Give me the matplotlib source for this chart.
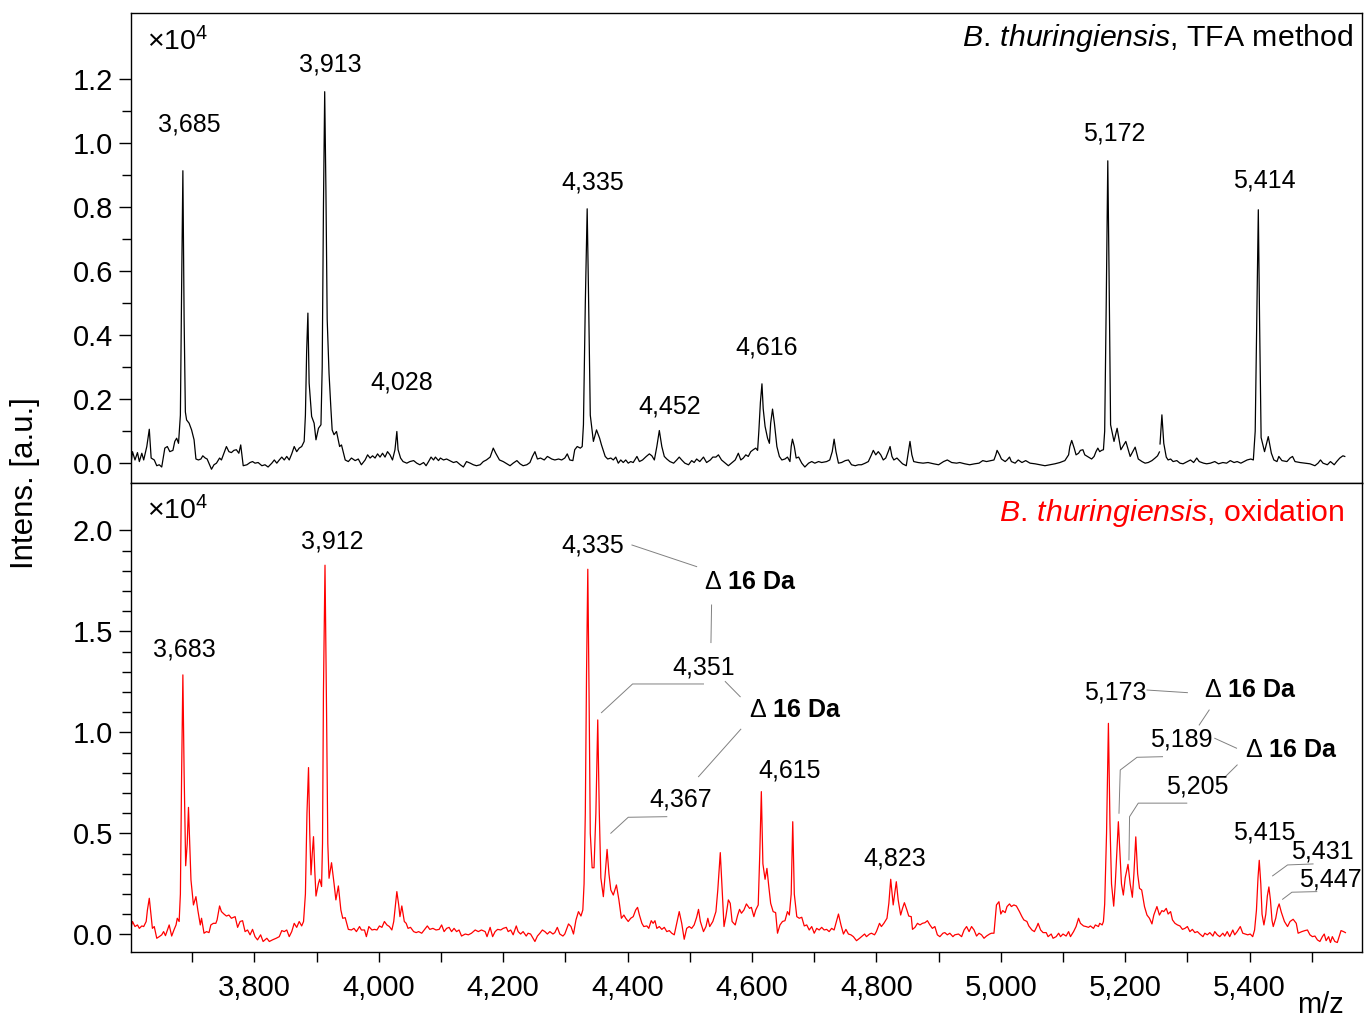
import numpy as np
import matplotlib
matplotlib.use("Agg")
import matplotlib.pyplot as plt
from matplotlib.ticker import FixedLocator, FuncFormatter

plt.rcParams['font.family'] = ['Liberation Sans', 'DejaVu Sans']
plt.rcParams['mathtext.fontset'] = 'custom'
plt.rcParams['mathtext.rm'] = 'Liberation Sans'
plt.rcParams['mathtext.it'] = 'Liberation Sans:italic'
plt.rcParams['mathtext.bf'] = 'Liberation Sans:bold'

# ---------------- data (m/z, intensity x10^4) ----------------
top_trace = [
    (3602, 0.005), (3604, 0.036), (3608, 0.010), (3612, 0.033), (3615, 0.005), (3619, 0.031),
    (3622, 0.010), (3627, 0.052), (3631, 0.106), (3634, 0.016), (3639, 0.010), (3643, -0.008),
    (3647, -0.005), (3651, -0.012), (3656, 0.047), (3660, 0.052), (3664, 0.036), (3669, 0.040),
    (3672, 0.068), (3675, 0.078), (3678, 0.062), (3681, 0.15), (3683, 0.55), (3685, 0.914),
    (3687, 0.45), (3689, 0.16), (3691, 0.135), (3695, 0.125), (3699, 0.104), (3703, 0.073),
    (3706, 0.013), (3710, 0.010), (3714, 0.013), (3717, 0.023), (3721, 0.016), (3724, 0.013),
    (3728, -0.005), (3731, -0.019), (3735, -0.005), (3739, 0.000), (3744, 0.016), (3747, 0.010),
    (3752, 0.036), (3755, 0.052), (3759, 0.036), (3763, 0.033), (3767, 0.040), (3771, 0.042),
    (3775, 0.031), (3778, 0.057), (3782, -0.008), (3788, -0.005), (3793, 0.002), (3797, 0.005),
    (3801, 0.000), (3806, 0.002), (3812, -0.008), (3817, -0.005), (3822, -0.012), (3828, 0.000),
    (3832, 0.010), (3836, 0.000), (3840, 0.010), (3844, 0.019), (3848, 0.010), (3852, 0.021),
    (3856, 0.010), (3860, 0.029), (3864, 0.052), (3868, 0.036), (3872, 0.047), (3876, 0.052),
    (3880, 0.068), (3882, 0.15), (3884, 0.35), (3886, 0.469), (3888, 0.25), (3892, 0.146),
    (3896, 0.125), (3899, 0.073), (3903, 0.109), (3907, 0.120), (3909, 0.30), (3911, 0.80),
    (3913, 1.161), (3915, 0.85), (3917, 0.45), (3920, 0.28), (3923, 0.17), (3925, 0.104),
    (3928, 0.089), (3932, 0.099), (3937, 0.052), (3940, 0.057), (3946, 0.010), (3951, 0.005),
    (3956, 0.016), (3962, 0.008), (3967, 0.013), (3972, -0.005), (3978, 0.010), (3982, 0.026),
    (3986, 0.016), (3990, 0.023), (3994, 0.016), (3998, 0.029), (4002, 0.019), (4006, 0.031),
    (4010, 0.019), (4014, 0.036), (4018, 0.026), (4022, 0.010), (4026, 0.042), (4029, 0.099),
    (4031, 0.042), (4035, 0.016), (4039, 0.005), (4045, 0.000), (4050, 0.005), (4056, 0.008),
    (4061, 0.000), (4066, -0.005), (4072, 0.002), (4076, -0.008), (4080, 0.005), (4084, 0.019),
    (4088, 0.010), (4091, 0.019), (4096, 0.008), (4099, 0.016), (4104, 0.010), (4109, 0.013),
    (4114, 0.008), (4120, 0.002), (4125, 0.005), (4131, -0.005), (4136, -0.012), (4141, 0.005),
    (4147, 0.000), (4152, -0.005), (4157, -0.008), (4163, -0.005), (4168, 0.005), (4173, 0.010),
    (4179, 0.019), (4184, 0.047), (4188, 0.031), (4194, 0.010), (4200, 0.005), (4206, -0.002),
    (4211, -0.008), (4216, 0.000), (4222, 0.008), (4227, -0.002), (4232, -0.008), (4238, -0.005),
    (4243, 0.002), (4247, 0.021), (4251, 0.036), (4255, 0.013), (4260, 0.016), (4266, 0.010),
    (4271, 0.021), (4273, 0.019), (4278, 0.013), (4283, 0.010), (4289, 0.013), (4294, 0.010),
    (4299, 0.016), (4303, 0.029), (4307, 0.010), (4312, 0.008), (4315, 0.042), (4319, 0.052),
    (4324, 0.047), (4327, 0.052), (4329, 0.12), (4332, 0.50), (4335, 0.795), (4337, 0.55),
    (4340, 0.15), (4345, 0.068), (4350, 0.104), (4355, 0.078), (4358, 0.057), (4364, 0.021),
    (4368, 0.013), (4373, 0.016), (4377, 0.010), (4381, 0.019), (4385, 0.000), (4389, 0.010),
    (4393, 0.002), (4397, 0.010), (4401, 0.000), (4405, 0.005), (4409, 0.002), (4415, 0.021),
    (4419, 0.005), (4424, 0.010), (4430, 0.021), (4435, 0.029), (4439, 0.023), (4443, 0.010),
    (4447, 0.052), (4451, 0.102), (4455, 0.052), (4459, 0.021), (4463, 0.013), (4468, 0.005),
    (4474, 0.000), (4479, 0.010), (4483, 0.019), (4487, 0.010), (4492, 0.000), (4498, -0.005),
    (4503, 0.008), (4507, 0.002), (4511, 0.013), (4516, 0.005), (4522, 0.019), (4527, 0.002),
    (4533, 0.010), (4537, 0.019), (4542, 0.019), (4546, 0.026), (4551, 0.010), (4557, 0.000),
    (4562, -0.008), (4567, 0.000), (4573, 0.010), (4578, 0.031), (4582, 0.010), (4586, 0.016),
    (4590, 0.026), (4594, 0.021), (4598, 0.036), (4602, 0.042), (4606, 0.047), (4609, 0.040),
    (4611, 0.10), (4613.5, 0.19), (4616, 0.248), (4618, 0.17), (4621, 0.115), (4625, 0.078),
    (4628, 0.062), (4630, 0.125), (4633, 0.169), (4636, 0.125), (4640, 0.052), (4644, 0.021),
    (4648, 0.010), (4653, 0.013), (4657, 0.019), (4661, 0.005), (4663, 0.052), (4665, 0.075),
    (4668, 0.052), (4671, 0.016), (4675, 0.019), (4680, 0.000), (4685, -0.012), (4691, 0.000),
    (4696, 0.005), (4701, 0.000), (4707, 0.005), (4712, 0.002), (4720, 0.005), (4725, 0.010),
    (4729, 0.036), (4732, 0.075), (4735, 0.036), (4739, 0.000), (4744, 0.002), (4750, 0.008),
    (4755, 0.010), (4760, -0.005), (4766, -0.008), (4771, -0.005), (4776, -0.005), (4782, 0.000),
    (4787, 0.005), (4792, 0.026), (4795, 0.040), (4799, 0.026), (4803, 0.036), (4807, 0.026),
    (4811, 0.010), (4815, 0.016), (4819, 0.036), (4822, 0.052), (4825, 0.021), (4828, 0.010),
    (4833, 0.016), (4837, 0.008), (4842, -0.002), (4848, -0.008), (4851, 0.031), (4854, 0.068),
    (4857, 0.026), (4860, 0.005), (4867, 0.002), (4875, 0.000), (4883, 0.002), (4892, -0.002),
    (4900, -0.005), (4908, 0.005), (4914, 0.010), (4921, 0.002), (4929, 0.000), (4934, 0.002),
    (4942, -0.002), (4950, -0.005), (4958, -0.002), (4965, 0.000), (4971, 0.008), (4977, 0.005),
    (4984, 0.008), (4989, 0.010), (4992, 0.026), (4994, 0.040), (4998, 0.026), (5001, 0.013),
    (5007, 0.005), (5010, 0.010), (5014, 0.019), (5017, 0.005), (5023, 0.000), (5028, 0.010),
    (5034, 0.002), (5040, 0.008), (5047, 0.000), (5055, -0.002), (5063, -0.005), (5071, -0.008),
    (5079, -0.005), (5087, -0.002), (5095, 0.002), (5103, 0.008), (5109, 0.026), (5111, 0.052),
    (5114, 0.071), (5118, 0.047), (5121, 0.026), (5125, 0.031), (5128, 0.040), (5132, 0.042),
    (5135, 0.026), (5141, 0.019), (5146, 0.013), (5150, 0.021), (5153, 0.036), (5156, 0.047),
    (5159, 0.036), (5162, 0.040), (5165, 0.042), (5167, 0.10), (5169.5, 0.50), (5172, 0.945),
    (5174, 0.60), (5176.5, 0.12), (5182, 0.068), (5187, 0.109), (5193, 0.042), (5201, 0.068),
    (5208, 0.021), (5216, 0.050), (5221, 0.013), (5227, 0.005), (5232, 0.000), (5237, 0.002),
    (5243, 0.008), (5248, 0.016), (5252, 0.023), (5255, 0.035), (np.nan, np.nan), (5256, 0.060),
    (5259, 0.151), (5262, 0.062), (5266, 0.019), (5269, 0.010), (5273, 0.013), (5277, 0.005),
    (5283, 0.008), (5288, 0.000), (5293, -0.002), (5300, 0.005), (5305, 0.010), (5310, 0.002),
    (5315, 0.016), (5319, 0.005), (5326, 0.000), (5331, -0.002), (5337, 0.000), (5344, 0.005),
    (5350, -0.002), (5357, 0.002), (5363, 0.000), (5369, 0.008), (5375, 0.002), (5380, 0.005),
    (5386, 0.000), (5391, 0.005), (5396, 0.010), (5402, 0.013), (5406, 0.010), (5409, 0.10),
    (5411.5, 0.45), (5414, 0.792), (5416, 0.45), (5418.5, 0.08), (5424, 0.036), (5430, 0.083),
    (5435, 0.031), (5439, 0.010), (5444, 0.005), (5447, 0.021), (5452, 0.008), (5460, 0.005),
    (5465, 0.016), (5469, 0.021), (5473, 0.005), (5481, 0.002), (5489, 0.000), (5497, -0.002),
    (5505, -0.008), (5510, 0.000), (5514, 0.010), (5518, 0.000), (5525, -0.005), (5530, 0.005),
    (5536, -0.005), (5540, 0.005), (5545, 0.016), (5550, 0.023), (5553, 0.021),
]

bottom_trace = [
    (3602, 0.039), (3604, 0.064), (3608, 0.039), (3612, 0.047), (3615, 0.030), (3619, 0.042),
    (3622, 0.039), (3626, 0.064), (3628, 0.121), (3631, 0.179), (3633, 0.121), (3636, 0.030),
    (3639, 0.039), (3643, -0.019), (3647, -0.011), (3651, -0.002), (3654, 0.014), (3657, -0.006),
    (3661, 0.030), (3663, 0.047), (3667, -0.008), (3671, 0.025), (3674, 0.047), (3676, 0.080),
    (3679, 0.064), (3681, 0.20), (3683, 0.80), (3685, 1.285), (3687, 0.80), (3689.5, 0.34),
    (3692, 0.45), (3694, 0.629), (3696, 0.45), (3698, 0.270), (3702, 0.146), (3706, 0.187),
    (3709, 0.121), (3713, 0.047), (3715, 0.080), (3719, 0.006), (3723, 0.014), (3727, 0.009),
    (3730, 0.047), (3734, 0.055), (3738, 0.055), (3740, 0.072), (3744, 0.141), (3747, 0.113),
    (3751, 0.101), (3755, 0.091), (3759, 0.096), (3763, 0.080), (3769, 0.088), (3773, 0.035),
    (3777, 0.064), (3781, 0.068), (3785, 0.014), (3789, 0.022), (3793, -0.002), (3797, 0.025),
    (3801, -0.011), (3805, -0.027), (3810, -0.002), (3814, -0.035), (3820, -0.019), (3824, -0.035),
    (3829, -0.027), (3835, -0.019), (3840, -0.011), (3844, 0.019), (3848, 0.014), (3852, 0.022),
    (3856, -0.011), (3860, 0.014), (3864, 0.055), (3868, 0.035), (3872, 0.064), (3876, 0.042),
    (3879, 0.064), (3882, 0.20), (3884.5, 0.60), (3887, 0.826), (3889, 0.50), (3891, 0.295),
    (3893, 0.40), (3895, 0.484), (3897, 0.32), (3899, 0.190), (3903, 0.253), (3905, 0.273),
    (3908, 0.237), (3909.5, 0.45), (3911, 1.20), (3913.5, 1.828), (3916, 1.10), (3918, 0.45),
    (3920, 0.278), (3924, 0.355), (3928, 0.253), (3931, 0.171), (3935, 0.240), (3939, 0.121),
    (3942, 0.080), (3946, 0.083), (3951, 0.025), (3956, 0.022), (3960, 0.030), (3964, 0.014),
    (3969, 0.039), (3972, 0.022), (3977, 0.022), (3980, -0.011), (3984, 0.039), (3989, 0.022),
    (3993, 0.025), (3997, 0.022), (4001, 0.042), (4005, 0.035), (4009, 0.064), (4013, 0.047),
    (4017, 0.039), (4021, 0.022), (4024, 0.064), (4027, 0.154), (4029, 0.212), (4032, 0.146),
    (4034, 0.088), (4037, 0.141), (4041, 0.064), (4044, 0.055), (4047, 0.030), (4051, 0.035),
    (4056, 0.014), (4060, 0.009), (4064, 0.014), (4069, 0.006), (4073, 0.022), (4078, 0.042),
    (4082, 0.025), (4087, 0.030), (4092, 0.022), (4097, 0.025), (4101, 0.047), (4105, 0.014),
    (4109, 0.030), (4113, 0.035), (4117, 0.014), (4121, 0.030), (4125, 0.014), (4129, 0.022),
    (4133, -0.008), (4139, 0.002), (4144, -0.002), (4149, 0.006), (4155, 0.022), (4160, 0.014),
    (4165, 0.022), (4171, 0.014), (4174, -0.011), (4179, 0.035), (4183, -0.011), (4187, 0.014),
    (4191, 0.025), (4196, 0.022), (4200, 0.030), (4205, 0.035), (4208, 0.014), (4212, 0.022),
    (4216, -0.002), (4221, 0.042), (4224, 0.014), (4228, 0.002), (4232, 0.014), (4237, -0.008),
    (4240, 0.006), (4244, 0.002), (4248, -0.019), (4251, -0.035), (4255, -0.008), (4259, 0.006),
    (4263, 0.022), (4267, 0.014), (4271, 0.002), (4275, 0.014), (4280, 0.002), (4283, 0.009),
    (4287, 0.035), (4291, 0.002), (4296, -0.008), (4299, 0.002), (4305, 0.052), (4309, 0.039),
    (4313, 0.002), (4317, 0.072), (4321, 0.113), (4325, 0.091), (4328, 0.121), (4330, 0.25),
    (4332, 0.60), (4334, 1.30), (4336, 1.808), (4338, 1.20), (4340, 0.50), (4343, 0.33),
    (4346, 0.33), (4349, 0.60), (4352, 1.062), (4354.5, 0.60), (4357, 0.28), (4361, 0.187),
    (4364, 0.30), (4367, 0.421), (4370, 0.30), (4373, 0.220), (4377, 0.195), (4382, 0.245),
    (4386, 0.171), (4390, 0.080), (4394, 0.096), (4397, 0.080), (4401, 0.064), (4405, 0.080),
    (4409, 0.088), (4413, 0.121), (4416, 0.134), (4419, 0.096), (4423, 0.055), (4426, 0.039),
    (4431, 0.042), (4434, 0.030), (4438, 0.068), (4441, 0.055), (4444, 0.068), (4447, 0.030),
    (4451, 0.039), (4455, 0.025), (4459, 0.035), (4463, 0.014), (4467, 0.019), (4471, 0.006),
    (4475, -0.002), (4479, 0.055), (4483, 0.113), (4487, 0.055), (4491, -0.024), (4495, 0.030),
    (4499, 0.039), (4503, 0.030), (4507, 0.047), (4511, 0.085), (4514, 0.124), (4517, 0.064),
    (4522, 0.014), (4526, 0.039), (4529, 0.080), (4532, 0.039), (4537, 0.064), (4542, 0.113),
    (4545, 0.220), (4549, 0.405), (4552, 0.220), (4555, 0.039), (4558, 0.088), (4562, 0.171),
    (4565, 0.154), (4568, 0.064), (4573, 0.047), (4577, 0.096), (4580, 0.124), (4583, 0.105),
    (4587, 0.121), (4591, 0.151), (4596, 0.129), (4599, 0.134), (4603, 0.088), (4606, 0.121),
    (4610, 0.146), (4612.5, 0.40), (4615, 0.707), (4617.5, 0.35), (4621, 0.273), (4624, 0.327),
    (4627, 0.237), (4630, 0.154), (4634, 0.113), (4638, 0.108), (4641, 0.006), (4645, 0.047),
    (4649, 0.064), (4653, 0.068), (4657, 0.113), (4660, 0.096), (4663, 0.20), (4665.5, 0.558),
    (4668, 0.20), (4672, 0.088), (4676, 0.080), (4680, 0.085), (4684, 0.042), (4688, 0.047),
    (4692, 0.022), (4696, 0.039), (4700, 0.006), (4704, 0.030), (4708, 0.022), (4712, 0.035),
    (4716, 0.022), (4720, 0.025), (4724, 0.014), (4728, 0.030), (4732, 0.022), (4736, 0.068),
    (4739, 0.101), (4743, 0.047), (4747, 0.002), (4751, 0.025), (4755, 0.002), (4759, -0.002),
    (4763, -0.011), (4768, -0.031), (4773, -0.019), (4776, -0.011), (4781, 0.002), (4784, -0.011),
    (4789, 0.002), (4792, 0.006), (4797, -0.002), (4800, 0.014), (4805, 0.055), (4808, 0.039),
    (4812, 0.055), (4817, 0.080), (4820, 0.154), (4823, 0.273), (4827, 0.146), (4832, 0.261),
    (4835, 0.171), (4839, 0.096), (4842, 0.129), (4845, 0.157), (4849, 0.121), (4852, 0.091),
    (4856, 0.088), (4858, 0.025), (4862, 0.035), (4866, 0.055), (4870, 0.047), (4874, 0.055),
    (4878, 0.058), (4882, 0.068), (4886, 0.047), (4890, 0.030), (4894, 0.039), (4898, -0.002),
    (4902, -0.011), (4907, 0.006), (4910, 0.009), (4914, -0.002), (4918, 0.006), (4923, -0.011),
    (4926, -0.002), (4932, 0.002), (4937, -0.011), (4941, 0.022), (4945, 0.039), (4949, 0.014),
    (4953, 0.039), (4957, 0.022), (4961, -0.008), (4965, 0.006), (4969, -0.002), (4973, -0.019),
    (4977, -0.008), (4982, 0.002), (4985, 0.006), (4989, 0.006), (4993, 0.146), (4997, 0.162),
    (5000, 0.101), (5003, 0.118), (5007, 0.108), (5010, 0.138), (5014, 0.151), (5017, 0.138),
    (5021, 0.146), (5025, 0.141), (5030, 0.113), (5034, 0.088), (5037, 0.072), (5042, 0.064),
    (5045, 0.042), (5050, 0.022), (5054, 0.014), (5058, 0.039), (5060, 0.055), (5064, 0.022),
    (5068, 0.009), (5073, 0.009), (5076, -0.011), (5081, 0.002), (5084, -0.019), (5089, -0.011),
    (5093, 0.006), (5096, -0.011), (5100, 0.002), (5105, -0.008), (5109, 0.014), (5112, -0.011),
    (5117, 0.014), (5121, 0.039), (5125, 0.080), (5128, 0.055), (5133, 0.042), (5137, 0.039),
    (5141, 0.035), (5144, 0.042), (5149, 0.030), (5152, 0.047), (5157, 0.039), (5159, 0.055),
    (5163, 0.047), (5165, 0.064), (5167, 0.15), (5170, 0.50), (5173, 1.045), (5175.5, 0.55),
    (5178, 0.25), (5181.5, 0.140), (5184, 0.25), (5186.5, 0.40), (5189, 0.558), (5191.5, 0.40),
    (5194, 0.25), (5197, 0.195), (5200, 0.28), (5204.5, 0.347), (5208, 0.25), (5211.5, 0.184),
    (5214, 0.30), (5217, 0.483), (5220, 0.30), (5223, 0.228), (5226.5, 0.220), (5231, 0.138),
    (5235, 0.096), (5239, 0.080), (5243, 0.052), (5246, 0.096), (5251, 0.138), (5255, 0.096),
    (5259, 0.118), (5262, 0.113), (5266, 0.129), (5269, 0.101), (5273, 0.113), (5276, 0.072),
    (5280, 0.055), (5284, 0.047), (5288, 0.042), (5292, 0.025), (5296, 0.030), (5300, 0.039),
    (5304, 0.014), (5308, 0.025), (5312, 0.009), (5316, 0.014), (5320, 0.002), (5325, -0.011),
    (5328, 0.006), (5332, -0.002), (5336, 0.009), (5341, -0.008), (5344, 0.014), (5348, -0.002),
    (5352, -0.011), (5357, 0.006), (5360, -0.008), (5364, 0.014), (5368, -0.011), (5373, 0.022),
    (5376, -0.002), (5380, 0.014), (5385, 0.039), (5389, 0.006), (5393, 0.002), (5397, -0.002),
    (5401, 0.002), (5405, -0.011), (5408, 0.022), (5411, 0.12), (5413.5, 0.28), (5415.5, 0.367),
    (5418, 0.25), (5420, 0.10), (5423, 0.047), (5426, 0.10), (5428.5, 0.19), (5431, 0.235),
    (5433.5, 0.17), (5436, 0.07), (5438, 0.039), (5442, 0.08), (5445, 0.13), (5447.5, 0.151),
    (5451, 0.11), (5456, 0.064), (5461, 0.039), (5465, 0.064), (5470, 0.075), (5475, 0.055),
    (5478, 0.006), (5484, 0.014), (5489, 0.019), (5493, 0.022), (5497, -0.002), (5501, -0.011),
    (5505, -0.008), (5509, -0.027), (5513, -0.035), (5517, -0.011), (5520, 0.002), (5523, -0.031),
    (5527, -0.011), (5530, -0.040), (5533, -0.011), (5537, -0.035), (5541, -0.040), (5544, -0.011),
    (5547, 0.019), (5551, 0.014), (5554, 0.009),
]

# peak labels: (text, label x, label y)
top_labels = [("3,685", 3695, 1.057), ("3,913", 3922, 1.245), ("4,028", 4037, 0.251),
              ("4,335", 4344, 0.876), ("4,452", 4467, 0.176), ("4,616", 4623, 0.360),
              ("5,172", 5182, 1.029), ("5,414", 5423, 0.885)]
bottom_labels = [("3,683", 3687, 1.413), ("3,912", 3925, 1.943), ("4,335", 4344, 1.928),
                 ("4,351", 4523, 1.324), ("4,367", 4486, 0.670), ("4,615", 4661, 0.814),
                 ("4,823", 4830, 0.374), ("5,173", 5184, 1.200), ("5,189", 5290, 0.963),
                 ("5,205", 5316, 0.730), ("5,415", 5423, 0.507), ("5,431", 5517, 0.413),
                 ("5,447", 5530, 0.270)]
delta_labels = [(4597, 1.745), (4669, 1.111), (5401, 1.210), (5467, 0.913)]
delta_text = "16 Da"

# connector lines (m/z list, intensity list)
connectors = [
    ([4407, 4511], [1.928, 1.821]),
    ([4535, 4534], [1.631, 1.445]),
    ([4557, 4581], [1.252, 1.177]),
    ([4522, 4408, 4358], [1.240, 1.240, 1.098]),
    ([4582, 4514], [1.016, 0.781]),
    ([4463, 4401, 4373], [0.583, 0.580, 0.501]),
    ([5235, 5300], [1.210, 1.197]),
    ([5335, 5319], [1.111, 1.037]),
    ([5344, 5379], [0.971, 0.922]),
    ([5260, 5219, 5192, 5190], [0.880, 0.877, 0.814, 0.600]),
    ([5380, 5360], [0.839, 0.778]),
    ([5299, 5221, 5207, 5206], [0.650, 0.650, 0.583, 0.369]),
    ([5502, 5461, 5437], [0.349, 0.344, 0.290]),
    ([5508, 5468, 5453], [0.212, 0.209, 0.174]),
]

x_major = [3800, 4000, 4200, 4400, 4600, 4800, 5000, 5200, 5400]
x_minor = [3700, 3900, 4100, 4300, 4500, 4700, 4900, 5100, 5300, 5500]
top_yticks = [0.0, 0.2, 0.4, 0.6, 0.8, 1.0, 1.2]
bottom_yticks = [0.0, 0.5, 1.0, 1.5, 2.0]

XLIM = (3601.6, 5580.7)
TOP_YLIM = (-0.062, 1.407)
BOT_YLIM = (-0.087, 2.235)

# ---------------- figure ----------------
fig = plt.figure(figsize=(13.64, 10.19), dpi=100)
axL, axW = 131 / 1364, (1362 - 131) / 1364
ax1 = fig.add_axes([axL, 1 - 483 / 1019, axW, 470 / 1019])
ax2 = fig.add_axes([axL, 1 - 952 / 1019, axW, 469 / 1019])

tx, ty = zip(*top_trace)
bx, by = zip(*bottom_trace)
ax1.plot(tx, ty, color='black', lw=0.9)
ax2.plot(bx, by, color='#ff0000', lw=0.9)

for ax, ylim in ((ax1, TOP_YLIM), (ax2, BOT_YLIM)):
    ax.set_xlim(*XLIM)
    ax.set_ylim(*ylim)
    for s in ax.spines.values():
        s.set_linewidth(1.0)
    ax.tick_params(axis='y', which='major', direction='out', length=9, width=1.0,
                   labelsize=21, pad=4)
    ax.tick_params(axis='y', which='minor', direction='out', length=6.5, width=1.0)
    ax.yaxis.set_major_formatter(FuncFormatter(lambda v, p: f"{v:.1f}"))

ax1.yaxis.set_major_locator(FixedLocator(top_yticks))
ax1.yaxis.set_minor_locator(FixedLocator([0.1, 0.3, 0.5, 0.7, 0.9, 1.1]))
ax2.yaxis.set_major_locator(FixedLocator(bottom_yticks))
ax2.yaxis.set_minor_locator(FixedLocator([v / 10 for v in range(1, 20) if v % 5 != 0]))

ax1.tick_params(axis='x', which='both', bottom=False, labelbottom=False)
ax2.xaxis.set_major_locator(FixedLocator(x_major))
ax2.xaxis.set_minor_locator(FixedLocator(x_minor))
ax2.xaxis.set_major_formatter(FuncFormatter(lambda v, p: f"{v:,.0f}"))
ax2.tick_params(axis='x', which='both', direction='out', length=7.5, width=1.0,
                labelsize=21, pad=8)

# labels
LBL = 18
for txt, x, y in top_labels:
    ax1.text(x, y, txt, ha='center', va='center', fontsize=LBL)
for txt, x, y in bottom_labels:
    ax2.text(x, y, txt, ha='center', va='center', fontsize=LBL)
for x, y in delta_labels:
    ax2.text(x, y, r"$\Delta$ " + delta_text, ha='center', va='center', fontsize=LBL,
             fontweight='bold')
for xs, ys in connectors:
    ax2.plot(xs, ys, color='#808080', lw=0.7)

ax1.text(0.013, 0.938, r"×10$^{4}$", transform=ax1.transAxes, fontsize=20.5,
         ha='left', va='center')
ax2.text(0.013, 0.942, r"×10$^{4}$", transform=ax2.transAxes, fontsize=20.5,
         ha='left', va='center')
ax1.text(0.9927, 0.947, r"$\mathit{B.\,thuringiensis}$, TFA method", transform=ax1.transAxes,
         fontsize=21.8, ha='right', va='center')
ax2.text(0.986, 0.936, r"$\mathit{B.\,thuringiensis}$, oxidation", transform=ax2.transAxes,
         fontsize=21.8, ha='right', va='center', color='#ff0000')

fig.text(25 / 1364, 1 - 483 / 1019, "Intens. [a.u.]", rotation=90, ha='center',
         va='center', fontsize=22.5)
fig.text(1320 / 1364, 1 - 1005 / 1019, "m/z", ha='center', va='center', fontsize=21)

fig.savefig("out.png", dpi=100)
